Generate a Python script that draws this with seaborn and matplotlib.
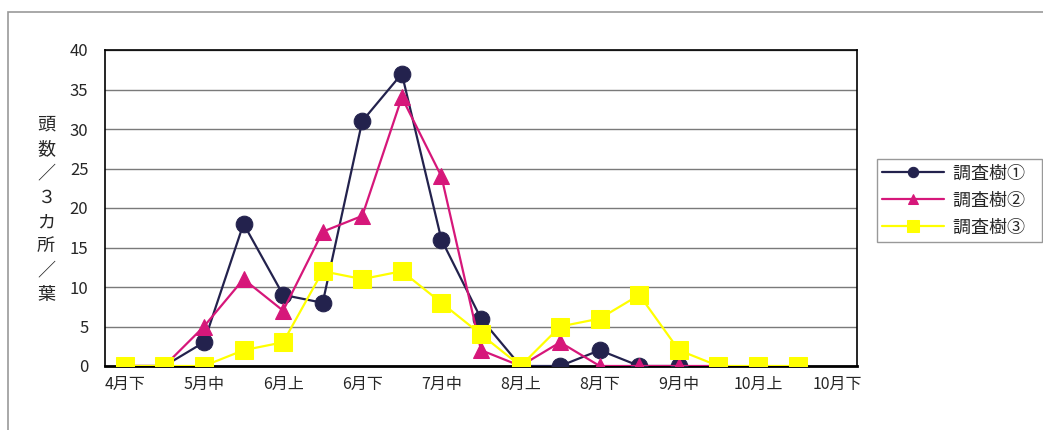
import numpy as np
import pandas as pd
import matplotlib
matplotlib.use('Agg')
import matplotlib.pyplot as plt
from matplotlib.patches import Rectangle
import seaborn as sns

# periods (旬) from 4月下 to 10月下
periods = ['4月下', '5月上', '5月中', '5月下', '6月上', '6月中', '6月下',
           '7月上', '7月中', '7月下', '8月上', '8月中', '8月下',
           '9月上', '9月中', '9月下', '10月上', '10月中', '10月下']

nan = np.nan
tree1 = [0, 0, 3, 18, 9, 8, 31, 37, 16, 6, 0, 0, 2, 0, 0, nan, nan, nan, nan]
tree2 = [0, 0, 5, 11, 7, 17, 19, 34, 24, 2, 0, 3, 0, 0, 0, 0, nan, nan, nan]
tree3 = [0, 0, 0, 2, 3, 12, 11, 12, 8, 4, 0, 5, 6, 9, 2, 0, 0, 0, nan]

series_names = ['調査樹①', '調査樹②', '調査樹③']
yticks = [0, 5, 10, 15, 20, 25, 30, 35, 40]

sns.set_style('white')
plt.rcParams['font.family'] = ['Noto Sans CJK JP', 'DejaVu Sans']

fig = plt.figure(figsize=(10.43, 4.3), dpi=100)
ax = fig.add_axes([105 / 1043, 1 - 366 / 430, 752 / 1043, 316 / 430])

styles = [
    dict(color='#23224d', marker='o', markersize=12),
    dict(color='#d6177a', marker='^', markersize=12),
    dict(color='#ffff00', marker='s', markersize=13),
]

for i, (name, vals, st) in enumerate(zip(series_names, [tree1, tree2, tree3], styles)):
    df = pd.DataFrame({'x': np.arange(len(periods)), 'y': vals}).dropna()
    sns.lineplot(data=df, x='x', y='y', ax=ax, color=st['color'], marker=st['marker'],
                 markersize=st['markersize'], markeredgecolor=st['color'],
                 linewidth=1.6, label=name, zorder=3 + i, legend=False)

ax.set_xlim(-0.5, len(periods) - 0.5)
ax.set_ylim(0, 40)
ax.set_yticks(yticks)
ax.set_yticklabels([str(v) for v in yticks], fontsize=12)
ax.set_xticks(np.arange(0, len(periods), 2))
ax.set_xticklabels(periods[::2], fontsize=11.5)
ax.set_xticks(np.arange(0.5, len(periods) - 0.5, 1), minor=True)
ax.tick_params(axis='x', which='major', length=0, pad=7)
ax.tick_params(axis='x', which='minor', direction='in', length=4, width=1, color='black')
ax.tick_params(axis='y', length=0, pad=12)
ax.set_xlabel('')
ax.set_ylabel('')
ax.yaxis.grid(True, color='#7a7a7a', linewidth=1)
ax.set_axisbelow(True)
for side in ['top', 'right', 'left']:
    ax.spines[side].set_color('black')
    ax.spines[side].set_linewidth(1.2)
ax.spines['bottom'].set_color('black')
ax.spines['bottom'].set_linewidth(2)

# vertical stacked y label
fig.text(46 / 1043, 1 - 210 / 430, '\n'.join('頭数／３カ所／葉'), ha='center', va='center',
         fontsize=13, linespacing=1.45)

# legend (box runs off the right edge like the original)
handles, labels = ax.get_legend_handles_labels()
leg = fig.legend(handles, [l + '   ' for l in labels], loc='upper left',
                 bbox_to_anchor=(877 / 1043, 1 - 159 / 430),
                 fontsize=13, handlelength=3.4, frameon=True, fancybox=False, markerscale=0.62,
                 borderpad=0.3, labelspacing=0.5, handletextpad=0.5, borderaxespad=0)
leg.get_frame().set_edgecolor('#808080')
leg.get_frame().set_linewidth(1)

# outer chart frame
fig.patches.append(Rectangle((8 / 1043, -0.05), 1.1, 1 - 12 / 430 + 0.05, transform=fig.transFigure,
                             fill=False, edgecolor='#999999', linewidth=1.2))

fig.savefig('out.png', dpi=100)
